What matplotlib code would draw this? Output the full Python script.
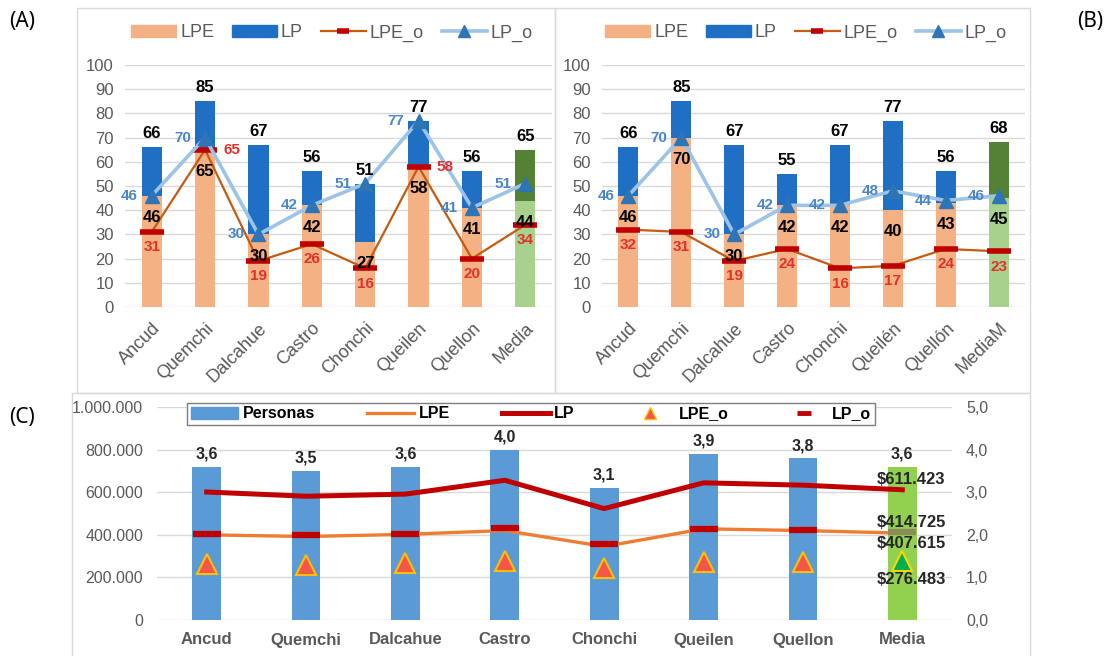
import matplotlib
matplotlib.use('Agg')
import matplotlib.pyplot as plt
from matplotlib.patches import Rectangle, Patch
from matplotlib.lines import Line2D
import numpy as np

plt.rcParams['font.family'] = ['Liberation Sans Narrow', 'Liberation Sans', 'DejaVu Sans']

# Panel A
cats_a = ['Ancud', 'Quemchi', 'Dalcahue', 'Castro', 'Chonchi', 'Queilen', 'Quellon', 'Media']
lp_a = [66, 85, 67, 56, 51, 77, 56, 65]
lpe_a = [46, 65, 30, 42, 27, 58, 41, 44]
lpe_o_a = [31, 65, 19, 26, 16, 58, 20, 34]
lp_o_a = [46, 70, 30, 42, 51, 77, 41, 51]

# Panel B
cats_b = ['Ancud', 'Quemchi', 'Dalcahue', 'Castro', 'Chonchi', 'Queilén', 'Quellón', 'MediaM']
lp_b = [66, 85, 67, 55, 67, 77, 56, 68]
lpe_b = [46, 70, 30, 42, 42, 40, 43, 45]
lpe_o_b = [32, 31, 19, 24, 16, 17, 24, 23]
lp_o_b = [46, 70, 30, 42, 42, 48, 44, 46]

# Panel C
cats_c = ['Ancud', 'Quemchi', 'Dalcahue', 'Castro', 'Chonchi', 'Queilen', 'Quellon', 'Media']
personas = [3.6, 3.5, 3.6, 4.0, 3.1, 3.9, 3.8, 3.6]
lp_c = [601000, 581000, 591000, 656000, 523000, 644000, 633000, 611423]
lpe_c = [400000, 392000, 402000, 420000, 345000, 428000, 420000, 407615]
lpe_o_c = [262000, 258000, 266000, 278000, 242000, 273000, 273000, 276483]
lp_o_c = [405000, 397000, 405000, 430000, 359000, 425000, 422000, 414725]

W, H = 1107, 656
GRAY = '#595959'
GRID = '#D9D9D9'

fig = plt.figure(figsize=(W / 100, H / 100), dpi=100)


def px_box(x0, y0, x1, y1):
    return [x0 / W, 1 - y1 / H, (x1 - x0) / W, (y1 - y0) / H]


def frame(x0, y0, x1, y1):
    r = Rectangle((x0 / W, 1 - y1 / H), (x1 - x0) / W, (y1 - y0) / H,
                  transform=fig.transFigure, fill=False, ec=GRID, lw=1)
    fig.add_artist(r)


def panel_ab(rect, legend_xy, cats, lp, lpe, lpe_o, lp_o, red_right=()):
    ax = fig.add_axes(rect)
    n = len(cats)
    x = np.arange(n)
    lp_cols = ['#1F6FC5'] * (n - 1) + ['#548235']
    lpe_cols = ['#F4B183'] * (n - 1) + ['#A9D18E']
    ax.bar(x, lp, width=0.38, color=lp_cols, zorder=2)
    ax.bar(x, lpe, width=0.38, color=lpe_cols, zorder=3)
    ax.plot(x, lpe_o, color='#C55A11', lw=1.6, marker='_', ms=17, mew=4,
            mec='#C00000', zorder=4)
    ax.plot(x, lp_o, color='#9DC3E6', lw=2.6, marker='^', ms=10,
            mfc='#2E75B6', mec='#2E75B6', zorder=5)

    for i in range(n):
        ax.text(x[i], lp[i] + 2.5, str(lp[i]), ha='center', va='bottom',
                fontsize=12, fontweight='bold', color='black', zorder=6)
        ax.text(x[i], lpe[i] - 9, str(lpe[i]), ha='center', va='center',
                fontsize=12, fontweight='bold', color='black', zorder=6)
        if i in red_right:
            ax.text(x[i] + 0.5, lpe_o[i], str(lpe_o[i]), ha='center', va='center',
                    fontsize=11, fontweight='bold', color='#E0312B', zorder=6)
        else:
            ax.text(x[i], lpe_o[i] - 6.3, str(lpe_o[i]), ha='center', va='center',
                    fontsize=11, fontweight='bold', color='#E0312B', zorder=6)
        ax.text(x[i] - 0.42, lp_o[i], str(lp_o[i]), ha='center', va='center',
                fontsize=11, fontweight='bold', color='#4A86C8', zorder=6)

    ax.set_xlim(-0.5, n - 0.5)
    ax.set_ylim(0, 100)
    ax.set_yticks(range(0, 101, 10))
    ax.set_xticks(x)
    ax.set_xticklabels(cats, rotation=45, ha='right', rotation_mode='anchor',
                       fontsize=13, color=GRAY)
    ax.tick_params(axis='y', length=0, labelsize=12, colors=GRAY, pad=8)
    ax.tick_params(axis='x', length=0, colors=GRAY, pad=9)
    ax.grid(axis='y', color=GRID, lw=1, zorder=0)
    ax.set_axisbelow(True)
    for s in ax.spines.values():
        s.set_visible(False)

    handles = [
        Patch(color='#F4B183', label='LPE'),
        Patch(color='#1F6FC5', label='LP'),
        Line2D([], [], color='#C55A11', lw=1.6, marker='_', ms=9, mew=4,
               mec='#C00000', label='LPE_o'),
        Line2D([], [], color='#9DC3E6', lw=2.6, marker='^', ms=8,
               mfc='#2E75B6', mec='#2E75B6', label='LP_o'),
    ]
    leg = ax.legend(handles=handles, ncol=4, loc='center',
                    bbox_to_anchor=(legend_xy[0] / W, 1 - legend_xy[1] / H),
                    bbox_transform=fig.transFigure, frameon=False,
                    fontsize=13, handlelength=2.5, handletextpad=0.2,
                    columnspacing=1.0)
    for t in leg.get_texts():
        t.set_color(GRAY)
    return ax


frame(77, 8, 555, 393)
frame(555, 8, 1030, 393)
frame(72, 393, 1030, 660)

panel_ab(px_box(125, 65, 552, 307), (332, 33), cats_a, lp_a, lpe_a, lpe_o_a, lp_o_a,
         red_right=(1, 5))
panel_ab(px_box(602, 65, 1025, 307), (806, 33), cats_b, lp_b, lpe_b, lpe_o_b, lp_o_b)

# Panel C: bars on the right axis, money lines on the left axis
axl = fig.add_axes(px_box(157, 407, 952, 620))
axr = axl.twinx()
axl.set_zorder(axr.get_zorder() + 1)
axl.patch.set_visible(False)

xc = np.arange(len(cats_c))
bar_cols = ['#5B9BD5'] * (len(cats_c) - 1) + ['#92D050']
axr.bar(xc, personas, width=0.29, color=bar_cols, zorder=2)
for i, v in enumerate(personas):
    axr.text(xc[i], v + 0.12, f'{v:.1f}'.replace('.', ','), ha='center', va='bottom',
             fontsize=11.5, fontweight='bold', color='#262626')
axr.set_ylim(0, 5)
axr.set_yticks(np.arange(0, 5.01, 1))
axr.set_yticklabels([f'{v:.1f}'.replace('.', ',') for v in np.arange(0, 5.01, 1)])
axr.grid(axis='y', color=GRID, lw=1, zorder=0)
axr.set_axisbelow(True)

axl.plot(xc, lpe_c, color='#ED7D31', lw=2.4, zorder=3)
axl.plot(xc, lp_c, color='#C00000', lw=3.6, zorder=3)
axl.plot(xc[:-1], lp_o_c[:-1], ls='none', marker='_', ms=20, mew=4.5, mec='#C00000', zorder=4)
axl.plot(xc[-1:], lp_o_c[-1:], ls='none', marker='_', ms=20, mew=4.5, mec='#8C8C5A', zorder=4)
axl.plot(xc[:-1], lpe_o_c[:-1], ls='none', marker='^', ms=15, mfc='#F4564A',
         mec='#FFC000', mew=1.5, zorder=5)
axl.plot(xc[-1:], lpe_o_c[-1:], ls='none', marker='^', ms=15, mfc='#00B050',
         mec='#FFD400', mew=1.5, zorder=5)

m = len(cats_c) - 1
money = lambda v: '$' + f'{v:,.0f}'.replace(',', '.')
lab_kw = dict(ha='center', va='center', fontsize=12, fontweight='bold', color='#262626', zorder=6)
axl.text(xc[m] + 0.09, lp_c[m] + 50000, money(lp_c[m]), **lab_kw)
axl.text(xc[m] + 0.09, lp_o_c[m] + 45000, money(lp_o_c[m]), **lab_kw)
axl.text(xc[m] + 0.09, lpe_c[m] - 50000, money(lpe_c[m]), **lab_kw)
axl.text(xc[m] + 0.09, lpe_o_c[m] - 85000, money(lpe_o_c[m]), **lab_kw)

axl.set_xlim(-0.5, len(cats_c) - 0.5)
axl.set_ylim(0, 1000000)
axl.set_yticks(range(0, 1000001, 200000))
axl.set_yticklabels(['0' if v == 0 else f'{v:,}'.replace(',', '.') for v in range(0, 1000001, 200000)])
axl.set_xticks(xc)
axl.set_xticklabels(cats_c, fontweight='bold', fontsize=12)
for a in (axl, axr):
    a.tick_params(axis='y', length=0, labelsize=11.5, colors=GRAY, pad=10)
    a.tick_params(axis='x', length=0, colors=GRAY, pad=9)
    for s in a.spines.values():
        s.set_visible(False)
for t in axl.get_xticklabels():
    t.set_color(GRAY)

handles_c = [
    Patch(color='#5B9BD5', label='Personas'),
    Line2D([], [], color='#ED7D31', lw=2.4, label='LPE'),
    Line2D([], [], color='#C00000', lw=3.6, label='LP'),
    Line2D([], [], ls='none', marker='^', ms=8, mfc='#F4564A', mec='#FFC000', label='LPE_o'),
    Line2D([], [], ls='none', marker='_', ms=10, mew=3.5, mec='#C00000', label='LP_o'),
]
leg_c = axl.legend(handles=handles_c, ncol=5, loc='center',
                   bbox_to_anchor=(531 / W, 1 - 414 / H), bbox_transform=fig.transFigure,
                   prop={'weight': 'bold', 'size': 11.5}, handlelength=3.0,
                   handletextpad=0.3, columnspacing=3.2, fancybox=False,
                   edgecolor='#7F7F7F', framealpha=1, borderpad=0.2)
leg_c.get_frame().set_linewidth(1)

for txt, (px, py) in [('(A)', (22, 22)), ('(B)', (1090, 22)), ('(C)', (22, 418))]:
    fig.text(px / W, 1 - py / H, txt, ha='center', va='center', fontsize=15,
             family=['Noto Sans', 'DejaVu Sans'])

fig.savefig('out.png', dpi=100)
